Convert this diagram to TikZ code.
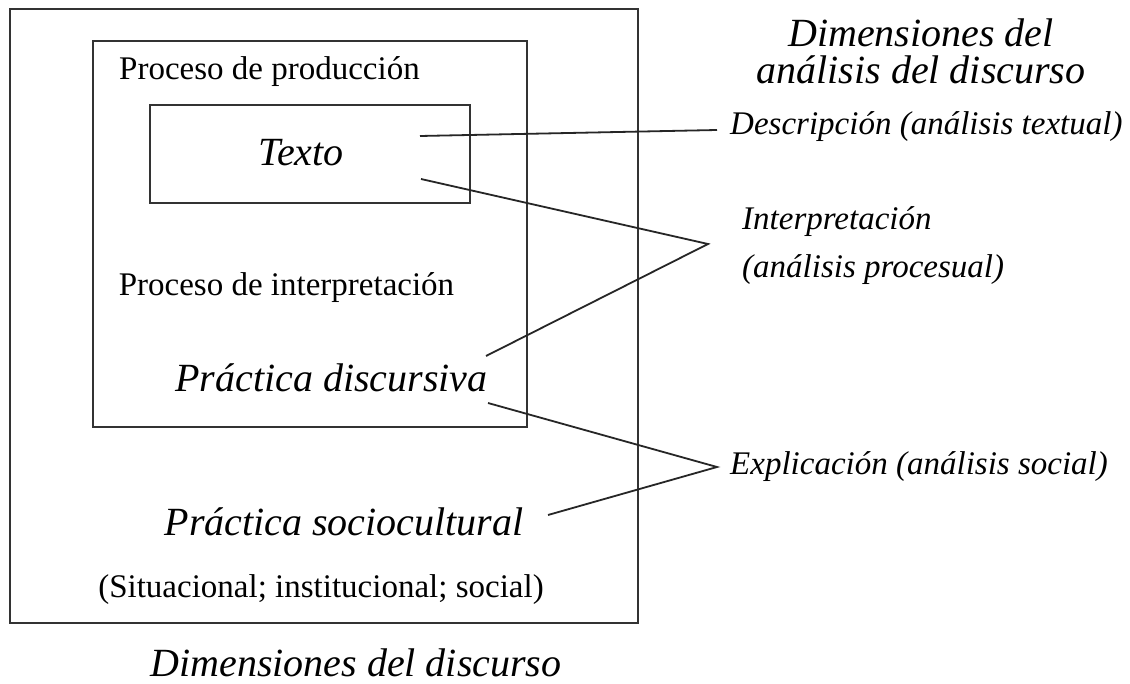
\documentclass[tikz,border=0pt]{standalone}
\usepackage{fontspec}
\setmainfont{Liberation Serif}
\begin{document}
\begin{tikzpicture}[x=1pt,y=-1pt,
  box/.style={draw=black!80, line width=1.9pt, inner sep=0pt},
  conn/.style={draw=black!85, line width=1.8pt},
  reg/.style={font=\fontsize{33}{38}\selectfont, inner sep=0pt},
  big/.style={font=\fontsize{40}{46}\selectfont\itshape, inner sep=0pt},
  lab/.style={font=\fontsize{33}{38}\selectfont\itshape, inner sep=0pt}]
\useasboundingbox (0,0) rectangle (1130,684);
\fill[white] (0,0) rectangle (1130,684);
% boxes
\node (outer) [box, minimum width=628pt, minimum height=614pt] at (324,316) {};
\node (inner) [box, minimum width=434pt, minimum height=385.5pt] at (310,234) {};
\node (tbox)  [box, minimum width=320pt, minimum height=98pt] at (310,154) {};
% texts
\node (prod)   [reg] at (269.5,72) {Proceso de producción};
\node (texto)  [big] at (301,153) {Texto};
\node (interp) [reg] at (286.5,288) {Proceso de interpretación};
\node (pdisc)  [big] at (331.5,378) {Práctica discursiva};
\node (psoc)   [big] at (344,522) {Práctica sociocultural};
\node (sit)    [reg] at (321,590) {(Situacional; institucional; social)};
\node (dimd)   [big] at (356,663) {Dimensiones del discurso};
\node (dima)   [big, font=\fontsize{40}{37}\selectfont\itshape, align=center] at (921,51) {Dimensiones del\\análisis del discurso};
\node (desc)   [lab, anchor=west] at (730,127) {Descripción (análisis textual)};
\node (interpl)[lab, anchor=west, align=left, font=\fontsize{33}{48}\selectfont\itshape] at (742,246) {Interpretación\\(análisis procesual)};
\node (expl)   [lab, anchor=west] at (730,467) {Explicación (análisis social)};
% connector points
\coordinate (d1) at (420,136);
\coordinate (d2) at (717,130);
\coordinate (i1) at (421,179);
\coordinate (ia) at (708,244);
\coordinate (i2) at (486,356);
\coordinate (e1) at (488,403);
\coordinate (ea) at (717,467);
\coordinate (e2) at (548,515);
\draw[conn] (d1) -- (d2);
\draw[conn] (i1) -- (ia) -- (i2);
\draw[conn] (e1) -- (ea) -- (e2);
\end{tikzpicture}
\end{document}
